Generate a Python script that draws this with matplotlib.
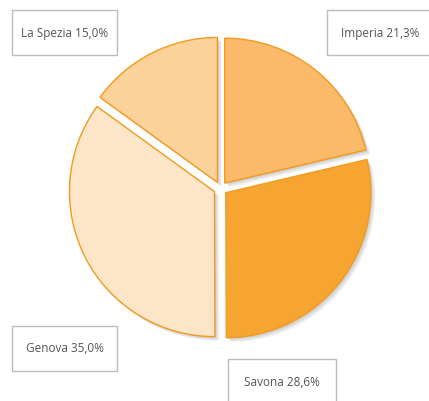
import matplotlib.pyplot as plt
from matplotlib.patches import Rectangle, Wedge

labels = ["Imperia", "Savona", "Genova", "La Spezia"]
shares = [21.3, 28.6, 35.0, 15.0]
colors = ["#fbba6a", "#f6a531", "#fde5c8", "#fcd29b"]

# label box positions in pixel space (x0, y0_top, width, height)
boxes = [(327, 10, 106, 45), (228, 359, 108, 46), (12, 326, 105, 45), (12, 10, 105, 45)]

W, H = 429, 401
fig = plt.figure(figsize=(W / 100, H / 100), dpi=100)
ax = fig.add_axes([0, 0, 1, 1])

cx, cy, r = 220.5, H - 188.5, 145
wedges, _ = ax.pie(shares, colors=colors, startangle=90, counterclock=False,
                   explode=[6.8] * 4, center=(cx, cy), radius=r,
                   wedgeprops=dict(edgecolor="#f29a1e", linewidth=1.0, zorder=2))

# soft drop shadow, offset down-right
for w in wedges:
    for k in range(1, 6):
        off = k * 0.9
        ax.add_patch(Wedge((w.center[0] + off, w.center[1] - off), w.r,
                           w.theta1, w.theta2, facecolor='black',
                           edgecolor='none', alpha=0.045, zorder=1))

ax.set_xlim(0, W)
ax.set_ylim(0, H)
ax.set_aspect('equal')
ax.axis('off')

for lab, val, (x0, y0, w, h) in zip(labels, shares, boxes):
    ax.add_patch(Rectangle((x0, H - y0 - h), w, h, facecolor='white',
                           edgecolor='#bdbdbd', linewidth=1.0, zorder=3))
    txt = f"{lab} {val:.1f}%".replace('.', ',')
    ax.text(x0 + w / 2, H - y0 - h / 2 - 0.5, txt, ha='center', va='center',
            fontsize=8.5, color='#555555', family='Open Sans', zorder=4)

fig.savefig("out.png", dpi=100)
